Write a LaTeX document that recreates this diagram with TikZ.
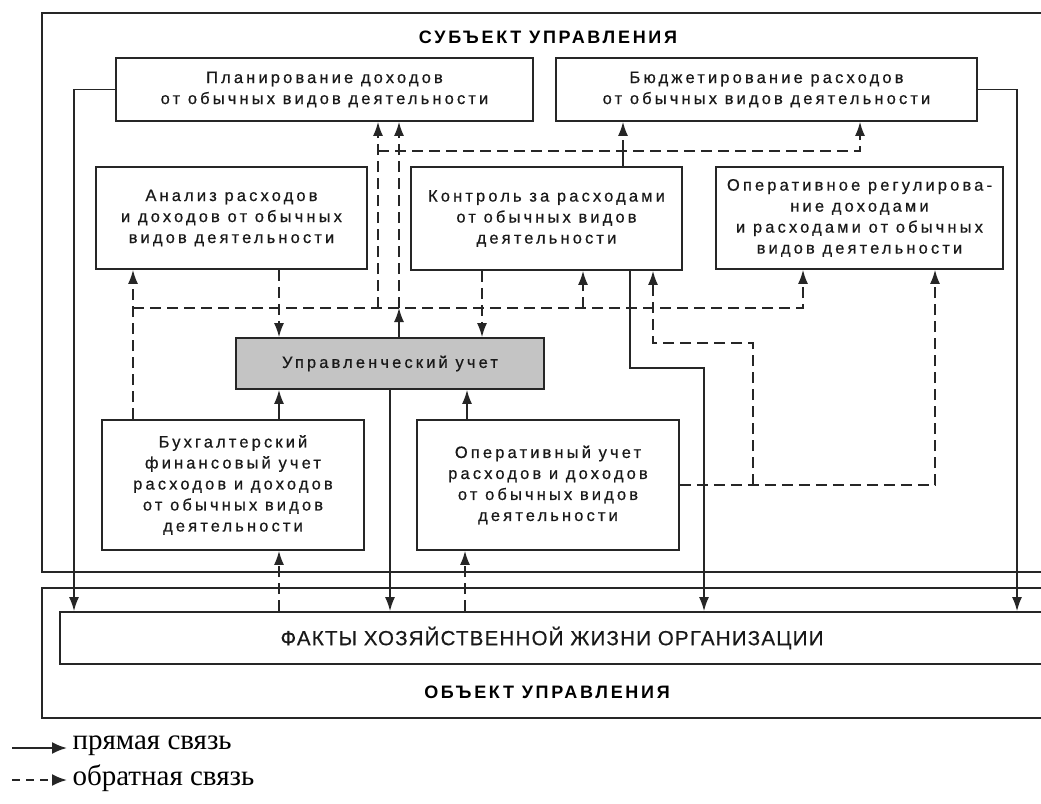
\documentclass[tikz,border=0pt]{standalone}
\usepackage{fontspec}
\setmainfont{Liberation Serif}
\newfontfamily\boxfont{Liberation Sans}[LetterSpace=19,FakeBold=0.6]
\newfontfamily\capfont{Liberation Sans}[LetterSpace=15]
\newfontfamily\factfont{Liberation Sans}[LetterSpace=6,FakeBold=0.5]
\usepackage{tikz}
\usetikzlibrary{arrows.meta}
\definecolor{linec}{HTML}{262626}
\definecolor{uufill}{HTML}{C4C4C4}

\tikzset{
  box/.style={draw=linec, line width=1.8pt, fill=white, inner sep=0pt, align=center,
    text=black!90, font={\boxfont\fontsize{16.5}{21}\selectfont}},
  frame/.style={draw=linec, line width=1.8pt, inner sep=0pt},
  direct/.style={draw=linec, line width=1.5pt, -{Latex[length=14pt,width=10pt]}},
  feed/.style={draw=linec, line width=1.5pt, dash pattern=on 11pt off 6pt, -{Latex[length=14pt,width=10pt]}},
}

\begin{document}
\begin{tikzpicture}[x=1pt, y=-1pt]
\useasboundingbox (0,0) rectangle (1041,803);
\clip (0,0) rectangle (1041,803);
\fill[white] (0,0) rectangle (1041,803);

% subject and object of management
\node[frame, minimum width=1012pt, minimum height=559pt] (subj) at (548,292.5) {};
\node[font={\capfont\bfseries\fontsize{18}{20}\selectfont}] (subjlbl) at (548,37) {СУБЪЕКТ УПРАВЛЕНИЯ};
\node[frame, minimum width=1012pt, minimum height=130pt] (obj) at (548,653) {};
\node[font={\capfont\bfseries\fontsize{18}{20}\selectfont}] (objlbl) at (547,692) {ОБЪЕКТ УПРАВЛЕНИЯ};
\node[box, minimum width=984pt, minimum height=52pt, font={\factfont\fontsize{20.5}{22}\selectfont}] (facts) at (552,638) {ФАКТЫ ХОЗЯЙСТВЕННОЙ ЖИЗНИ ОРГАНИЗАЦИИ};

% functions
\node[box, minimum width=417pt, minimum height=63pt] (plan) at (324.5,89.5) {Планирование доходов\\от обычных видов деятельности};
\node[box, minimum width=421pt, minimum height=63pt] (budget) at (766.5,89.5) {Бюджетирование расходов\\от обычных видов деятельности};
\node[box, minimum width=271pt, minimum height=102pt] (anal) at (231.5,218) {Анализ расходов\\и доходов от обычных\\видов деятельности};
\node[box, minimum width=271pt, minimum height=103pt] (control) at (546.5,218.5) {Контроль за расходами\\от обычных видов\\деятельности};
\node[box, minimum width=287pt, minimum height=102pt] (opreg) at (859.5,218) {Оперативное регулирова-\\ние доходами\\и расходами от обычных\\видов деятельности};
\node[box, fill=uufill, minimum width=308pt, minimum height=51pt] (uu) at (390,363.5) {Управленческий учет};
\node[box, minimum width=262pt, minimum height=130pt] (buh) at (233,485) {Бухгалтерский\\финансовый учет\\расходов и доходов\\от обычных видов\\деятельности};
\node[box, minimum width=262pt, minimum height=130pt] (opuch) at (548,485) {Оперативный учет\\расходов и доходов\\от обычных видов\\деятельности};

% columns and rows of the connectors
\coordinate (x74) at (74,0);
\coordinate (x133) at (133,0);
\coordinate (x279) at (279,0);
\coordinate (x378) at (378,0);
\coordinate (x399) at (399,0);
\coordinate (x465) at (465,0);
\coordinate (x467) at (467,0);
\coordinate (x482) at (482,0);
\coordinate (x583) at (583,0);
\coordinate (x623) at (623,0);
\coordinate (x630) at (630,0);
\coordinate (x653) at (653,0);
\coordinate (x704) at (704,0);
\coordinate (x753) at (753,0);
\coordinate (x803) at (803,0);
\coordinate (x860) at (860,0);
\coordinate (x935) at (935,0);
\coordinate (x1017) at (1017,0);
\coordinate (y151) at (0,151);
\coordinate (y308) at (0,308);
\coordinate (y343) at (0,343);
\coordinate (y368) at (0,368);

% direct links
\draw[direct] (plan.west) -| (facts.north -| x74);
\draw[direct] (budget.east) -| (facts.north -| x1017);
\draw[direct] (control.south -| x630) |- (x704 |- y368) -- (facts.north -| x704);
\draw[direct] (uu.south) -- (uu.south |- facts.north);
\draw[direct] (buh.north -| x279) -- (uu.south -| x279);
\draw[direct] (opuch.north -| x467) -- (uu.south -| x467);
\draw[direct] (uu.north -| x399) -- (x399 |- y308);
\draw[linec, line width=1.5pt] (control.north -| x623) -- (x623 |- y151);

% feedback
\draw[feed] (facts.north -| x279) -- (buh.south -| x279);
\draw[feed] (facts.north -| x465) -- (opuch.south -| x465);
\draw[feed] (buh.north -| x133) -- (anal.south -| x133);
\draw[feed] (x133 |- y308) -| (opreg.south -| x803);
\draw[feed] (anal.south -| x279) -- (uu.north -| x279);
\draw[feed] (control.south -| x482) -- (uu.north -| x482);
\draw[feed] (x399 |- y308) -- (plan.south -| x399);
\draw[feed] (x378 |- y308) -- (plan.south -| x378);
\draw[feed] (x378 |- y151) -| (budget.south -| x860);
\draw[feed] (x623 |- y151) -- (budget.south -| x623);
\draw[feed] (x583 |- y308) -- (control.south -| x583);
\draw[feed] (opuch.east) -| (opreg.south -| x935);
\draw[feed] (x753 |- opuch.east) |- (x653 |- y343) -- (control.south -| x653);

% legend
\coordinate (lg1a) at (12,748);
\coordinate (lg1b) at (67,748);
\coordinate (lg2a) at (12,780);
\coordinate (lg2b) at (67,780);
\draw[direct, line width=2.2pt, -{Latex[length=15pt,width=12pt]}] (lg1a) -- (lg1b);
\draw[feed, line width=2.2pt, dash pattern=on 8pt off 6pt, -{Latex[length=15pt,width=12pt]}] (lg2a) -- (lg2b);
\node[anchor=west, font=\fontsize{29}{30}\selectfont] (lg1t) at (69,746) {прямая связь};
\node[anchor=west, font=\fontsize{29}{30}\selectfont] (lg2t) at (69,778) {обратная связь};
\end{tikzpicture}
\end{document}
